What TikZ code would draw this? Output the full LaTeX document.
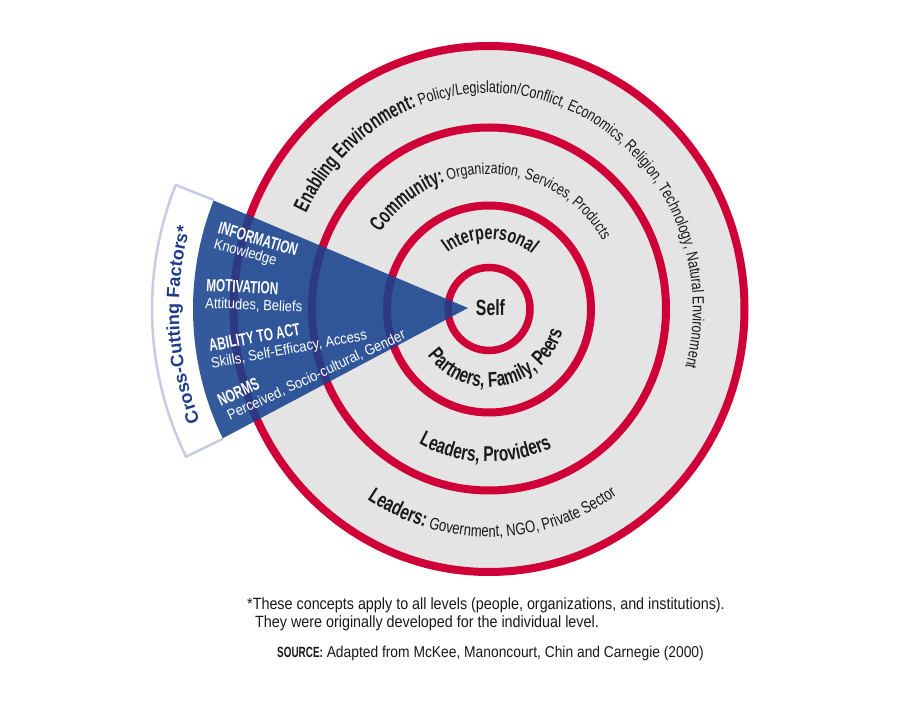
\documentclass[tikz,border=0pt]{standalone}
\usepackage{fontspec}
\setmainfont{Liberation Sans}
\newfontfamily\cfr[FakeStretch=0.88]{Liberation Sans}
\newfontfamily\cfrn[FakeStretch=0.78]{Liberation Sans}
\newfontfamily\cfb[FakeStretch=0.72]{Liberation Sans}
\newfontfamily\cfbn[FakeStretch=0.67]{Liberation Sans}
\newfontfamily\cfx{Liberation Sans}
\usetikzlibrary{decorations.text}
\definecolor{ringred}{RGB}{206,0,55}
\definecolor{discgray}{RGB}{228,228,228}
\definecolor{wedgeblue}{RGB}{22,66,142}
\definecolor{ccblue}{RGB}{30,60,140}
\definecolor{bandline}{RGB}{200,202,230}
\definecolor{txt}{RGB}{25,25,25}
\newcommand{\ringB}{\cfb\bfseries\fontsize{21.4}{22}\selectfont}
\newcommand{\outB}{\cfbn\bfseries\fontsize{21.4}{22}\selectfont}
\newcommand{\interB}{\cfb\bfseries\fontsize{20}{21}\selectfont}
\newcommand{\selfB}{\cfb\bfseries\fontsize{22}{23}\selectfont}
\newcommand{\enabR}{\cfrn\fontsize{16.2}{17}\selectfont}
\newcommand{\commR}{\cfrn\fontsize{15.8}{16}\selectfont}
\newcommand{\leadR}{\cfrn\fontsize{16.8}{17}\selectfont}
\newcommand{\crossB}{\cfx\bfseries\fontsize{18}{19}\selectfont}
\newcommand{\wedgeB}{\cfbn\bfseries\fontsize{17.5}{18}\selectfont}
\newcommand{\wedgeR}{\cfr\fontsize{14.8}{15}\selectfont}
\newcommand{\noteR}{\cfr\fontsize{16.3}{17}\selectfont}
\newcommand{\srcR}{\cfr\fontsize{15.7}{16}\selectfont}
\newcommand{\srcB}{\cfbn\bfseries\fontsize{14.8}{15}\selectfont}
\tikzset{
  ring/.style={draw=ringred, line width=8pt},
  wlabB/.style={anchor=base west, inner sep=0pt, text=white, font=\wedgeB},
  wlabR/.style={anchor=base west, inner sep=0pt, text=white, font=\wedgeR},
  note/.style={anchor=base west, inner sep=0pt, text=txt},
  arctext/.style={decorate, decoration={text along path, text align=center, text color=txt, text={#1}}},
}
\begin{document}
\begin{tikzpicture}[x=1pt,y=1pt]
\useasboundingbox (-489,-392) rectangle (411,309);
\fill[white] (-489,-392) rectangle (411,309);
% disc and rings
\fill[discgray] (0,0) ellipse [x radius=258, y radius=266];
\draw[ring] (0,0) ellipse [x radius=255.5, y radius=263];
\draw[ring] (0,0) ellipse [x radius=177, y radius=181.5];
\draw[ring] (0,0) ellipse [x radius=102, y radius=103.5];
\draw[ring, line width=7.5pt] (0,0) ellipse [x radius=41, y radius=41.5];
% cross-cutting band
\fill[white] (158.4:296) -- (158.4:337) arc[start angle=158.4, end angle=206, radius=337] -- (206:296) arc[start angle=206, end angle=158.4, radius=296] -- cycle;
\draw[bandline, line width=2.5pt, line join=round] (158.4:296) -- (158.4:337) arc[start angle=158.4, end angle=206, radius=337] -- (206:296);
% wedge
\fill[wedgeblue, fill opacity=0.87] (-21,1) -- (158.5:296) arc[start angle=158.5, end angle=205.9, radius=296] -- cycle;
% curved texts
\path[arctext={|\crossB\color{ccblue}|Cross-Cutting Factors*}] (215:310) arc[start angle=215, end angle=151, radius=310];
\path[arctext={|\outB|Enabling Environment:|\enabR| Policy/Legislation/Conflict, Economics, Religion, Technology, Natural Environment}] (160:204 and 216) arc[start angle=160, end angle=-22, x radius=204, y radius=216];
\path[arctext={|\outB|Community:|\commR| Organization, Services, Products}] (160:132 and 135) arc[start angle=160, end angle=16, x radius=132, y radius=135];
\path[arctext={|\interB|Interpersonal}] (150:69 and 70) arc[start angle=150, end angle=28, x radius=69, y radius=70];
\path[arctext={|\ringB|Partners, Family, Peers}] (205:77 and 78) arc[start angle=205, end angle=355, x radius=77, y radius=78];
\path[arctext={|\ringB|Leaders, Providers}] (220:149 and 153) arc[start angle=220, end angle=317, x radius=149, y radius=153];
\path[arctext={|\ringB|Leaders:|\leadR| Government, NGO, Private Sector}] (215:221 and 228) arc[start angle=215, end angle=327, x radius=221, y radius=228];
% self
\node[font=\selfB, text=txt, inner sep=0pt] (self) at (1.5,1) {Self};
% wedge labels
\node[wlabB, rotate=-16.5] (info) at (-272,76) {INFORMATION};
\node[wlabR, rotate=-16] (know) at (-276,61) {Knowledge};
\node[wlabB, rotate=-3] (moti) at (-283,18) {MOTIVATION};
\node[wlabR, rotate=-2.5] (atti) at (-284,1) {Attitudes, Beliefs};
\node[wlabB, rotate=10.5] (abil) at (-279,-42.7) {ABILITY TO ACT};
\node[wlabR, rotate=10.5] (skil) at (-277,-59.5) {Skills, Self-Efficacy, Access};
\node[wlabB, rotate=25] (norm) at (-268,-98) {NORMS};
\node[wlabR, rotate=25] (perc) at (-259,-111.5) {Perceived, Socio-cultural, Gender};
% footnotes
\node[note, font=\noteR] (n1) at (-242,-300) {*These concepts apply to all levels (people, organizations, and institutions).};
\node[note, font=\noteR] (n2) at (-234,-318) {They were originally developed for the individual level.};
\node[note, font=\srcR] (src) at (-212,-348) {{\srcB SOURCE:} Adapted from McKee, Manoncourt, Chin and Carnegie (2000)};
\end{tikzpicture}
\end{document}
